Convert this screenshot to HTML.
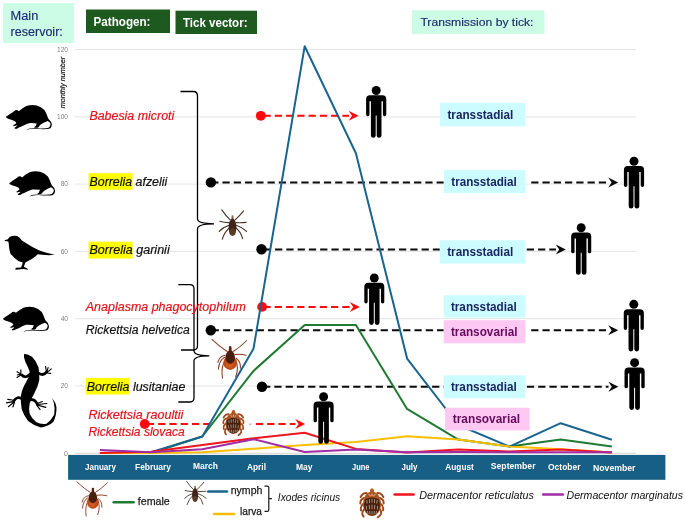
<!DOCTYPE html>
<html lang="en"><head><meta charset="utf-8"><title>Tick-borne pathogens: seasonal activity and transmission</title>
<style>
html,body{margin:0;padding:0;background:#fff;}
body{width:685px;height:524px;overflow:hidden;font-family:"Liberation Sans",sans-serif;}
svg{display:block;}
text{font-family:"Liberation Sans",sans-serif;}
</style></head>
<body>
<svg width="685" height="524" viewBox="0 0 685 524">
<rect width="685" height="524" fill="#ffffff"/>
<line x1="75" y1="453.3" x2="636" y2="453.3" stroke="#d9d4d0" stroke-width="1.0"/>
<text x="67.8" y="455.8" font-size="6.9" fill="#7f7f7f" text-anchor="end" >0</text>
<line x1="75" y1="386.0" x2="636" y2="386.0" stroke="#e4e4e4" stroke-width="1.0"/>
<text x="68" y="388.3" font-size="6.6" fill="#7f7f7f" text-anchor="end" >20</text>
<line x1="75" y1="318.7" x2="636" y2="318.7" stroke="#e4e4e4" stroke-width="1.0"/>
<text x="68" y="321.0" font-size="6.6" fill="#7f7f7f" text-anchor="end" >40</text>
<line x1="75" y1="251.4" x2="636" y2="251.4" stroke="#e4e4e4" stroke-width="1.0"/>
<text x="68" y="253.7" font-size="6.6" fill="#7f7f7f" text-anchor="end" >60</text>
<line x1="75" y1="184.1" x2="636" y2="184.1" stroke="#e4e4e4" stroke-width="1.0"/>
<text x="68" y="186.4" font-size="6.6" fill="#7f7f7f" text-anchor="end" >80</text>
<line x1="75" y1="116.9" x2="636" y2="116.9" stroke="#e4e4e4" stroke-width="1.0"/>
<text x="68" y="119.2" font-size="6.6" fill="#7f7f7f" text-anchor="end" >100</text>
<line x1="75" y1="49.6" x2="636" y2="49.6" stroke="#e4e4e4" stroke-width="1.0"/>
<text x="68" y="51.9" font-size="6.6" fill="#7f7f7f" text-anchor="end" >120</text>
<text transform="translate(65.2,108.3) rotate(-90)" font-size="7.6" font-style="italic" fill="#1a1a1a" stroke="#1a1a1a" stroke-width="0.2" textLength="51.5" lengthAdjust="spacingAndGlyphs">monthly number</text>
<rect x="3" y="3" width="71" height="40" fill="#ccfbe6"/>
<text x="10.6" y="19.8" font-size="12.3" fill="#1d2c72" textLength="27.7" lengthAdjust="spacingAndGlyphs" stroke="#1d2c72" stroke-width="0.15">Main</text>
<text x="10.6" y="35.6" font-size="12.3" fill="#1d2c72" textLength="52.2" lengthAdjust="spacingAndGlyphs" stroke="#1d2c72" stroke-width="0.15">reservoir:</text>
<rect x="86" y="9.5" width="84" height="23.5" fill="#1e5a20"/>
<text x="93.5" y="26" font-size="13.4" fill="#fff" textLength="57" lengthAdjust="spacingAndGlyphs" font-weight="bold" >Pathogen:</text>
<rect x="175.5" y="10.7" width="81.5" height="23.3" fill="#1e5a20"/>
<text x="183" y="26.8" font-size="13.4" fill="#fff" textLength="64.5" lengthAdjust="spacingAndGlyphs" font-weight="bold" >Tick vector:</text>
<rect x="412" y="10.4" width="132.5" height="23.6" fill="#ccfbe6"/>
<text x="420.4" y="26.4" font-size="11.7" fill="#1d2c68" textLength="113.1" lengthAdjust="spacingAndGlyphs" stroke="#1d2c68" stroke-width="0.15">Transmission by tick:</text>
<rect x="68.1" y="454.9" width="597.3" height="24.9" fill="#175f85"/>
<text x="85" y="470" font-size="8.7" fill="#fff" textLength="31" lengthAdjust="spacingAndGlyphs" font-weight="bold" >January</text>
<text x="135" y="470" font-size="8.7" fill="#fff" textLength="36" lengthAdjust="spacingAndGlyphs" font-weight="bold" >February</text>
<text x="193" y="468.8" font-size="8.7" fill="#fff" textLength="25" lengthAdjust="spacingAndGlyphs" font-weight="bold" >March</text>
<text x="247" y="470.4" font-size="8.7" fill="#fff" textLength="19" lengthAdjust="spacingAndGlyphs" font-weight="bold" >April</text>
<text x="296" y="470.4" font-size="8.7" fill="#fff" textLength="16.5" lengthAdjust="spacingAndGlyphs" font-weight="bold" >May</text>
<text x="352" y="470" font-size="8.7" fill="#fff" textLength="17.5" lengthAdjust="spacingAndGlyphs" font-weight="bold" >June</text>
<text x="401.5" y="470" font-size="8.7" fill="#fff" textLength="16.0" lengthAdjust="spacingAndGlyphs" font-weight="bold" >July</text>
<text x="445.3" y="470" font-size="8.7" fill="#fff" textLength="28.5" lengthAdjust="spacingAndGlyphs" font-weight="bold" >August</text>
<text x="490.8" y="469" font-size="8.7" fill="#fff" textLength="44.69999999999999" lengthAdjust="spacingAndGlyphs" font-weight="bold" >September</text>
<text x="548" y="470" font-size="8.7" fill="#fff" textLength="32.5" lengthAdjust="spacingAndGlyphs" font-weight="bold" >October</text>
<text x="593" y="470.6" font-size="8.7" fill="#fff" textLength="42.5" lengthAdjust="spacingAndGlyphs" font-weight="bold" >November</text>
<path d="M180.5,91.5 H193.5 Q197.5,91.5 197.5,96 V218.8 Q197.5,223.8 214,223.8 Q197.5,223.8 197.5,228.8 V345.5 Q197.5,350 193.5,350 H181" fill="none" stroke="#000" stroke-width="1.3"/>
<path d="M178.3,284.6 H190 Q194,284.6 194,289 V350.8 Q194,355.8 209.3,355.8 Q194,355.8 194,360.8 V397.5 Q194,402 190,402 H178.3" fill="none" stroke="#000" stroke-width="1.3"/>
<text x="89.4" y="119.8" font-size="12.3" fill="#e0161e" textLength="84.9" lengthAdjust="spacingAndGlyphs" font-style="italic" stroke="#e0161e" stroke-width="0.2">Babesia microti</text>
<rect x="88.6" y="173.2" width="43.9" height="16.6" fill="#ffff00"/>
<text x="89.5" y="186" font-size="12.3" fill="#111" textLength="77.7" lengthAdjust="spacingAndGlyphs" font-style="italic" stroke="#111" stroke-width="0.2">Borrelia afzelii</text>
<rect x="88.6" y="241.7" width="43.9" height="16.8" fill="#ffff00"/>
<text x="89.5" y="254.3" font-size="12.3" fill="#111" textLength="80.2" lengthAdjust="spacingAndGlyphs" font-style="italic" stroke="#111" stroke-width="0.2">Borrelia garinii</text>
<text x="85.8" y="310.5" font-size="12.3" fill="#e0161e" textLength="160.2" lengthAdjust="spacingAndGlyphs" font-style="italic" stroke="#e0161e" stroke-width="0.2">Anaplasma phagocytophilum</text>
<text x="85.8" y="334.1" font-size="12.3" fill="#111" textLength="104.0" lengthAdjust="spacingAndGlyphs" font-style="italic" stroke="#111" stroke-width="0.2">Rickettsia helvetica</text>
<rect x="85.8" y="377.9" width="43.6" height="16.6" fill="#ffff00"/>
<text x="86.7" y="390.7" font-size="12.3" fill="#111" textLength="98.7" lengthAdjust="spacingAndGlyphs" font-style="italic" stroke="#111" stroke-width="0.2">Borrelia lusitaniae</text>
<text x="88.4" y="419" font-size="12.3" fill="#e0161e" textLength="94.9" lengthAdjust="spacingAndGlyphs" font-style="italic" stroke="#e0161e" stroke-width="0.2">Rickettsia raoultii</text>
<text x="88.4" y="435.7" font-size="12.3" fill="#e0161e" textLength="96.3" lengthAdjust="spacingAndGlyphs" font-style="italic" stroke="#e0161e" stroke-width="0.2">Rickettsia slovaca</text>
<line x1="263.5" y1="115.7" x2="349" y2="115.7" stroke="#ff0a0a" stroke-width="2.0" stroke-dasharray="7.25 4.02"/>
<path d="M358.6,115.7 l-10,-4.95 l3.4,4.95 l-3.4,4.95 z" fill="#ff0a0a"/>
<circle cx="260.8" cy="115.8" r="4.9" fill="#ff0a0a"/>
<line x1="211.2" y1="182.5" x2="443.8" y2="182.5" stroke="#0a0a0a" stroke-width="2.0" stroke-dasharray="7.25 4.02"/>
<line x1="531.2" y1="182.5" x2="608.5" y2="182.5" stroke="#0a0a0a" stroke-width="2.0" stroke-dasharray="7.25 4.02"/>
<path d="M618.2,182.5 l-10,-4.95 l3.4,4.95 l-3.4,4.95 z" fill="#0a0a0a"/>
<circle cx="210.9" cy="182.4" r="5.2" fill="#000"/>
<line x1="263.8" y1="249.45" x2="440" y2="249.45" stroke="#0a0a0a" stroke-width="2.0" stroke-dasharray="7.25 4.02"/>
<line x1="515.5" y1="249.45" x2="556" y2="249.45" stroke="#0a0a0a" stroke-width="2.0" stroke-dasharray="7.25 4.02"/>
<path d="M565.8,249.45 l-10,-4.95 l3.4,4.95 l-3.4,4.95 z" fill="#0a0a0a"/>
<circle cx="261.5" cy="249.3" r="5.2" fill="#000"/>
<line x1="263.4" y1="307.0" x2="350" y2="307.0" stroke="#ff0a0a" stroke-width="2.0" stroke-dasharray="7.25 4.02"/>
<path d="M359.8,307.0 l-10,-4.95 l3.4,4.95 l-3.4,4.95 z" fill="#ff0a0a"/>
<circle cx="262.1" cy="306.9" r="4.9" fill="#ff0a0a"/>
<line x1="211.6" y1="330.3" x2="443.8" y2="330.3" stroke="#0a0a0a" stroke-width="2.0" stroke-dasharray="7.25 4.02"/>
<line x1="531.2" y1="330.3" x2="608.5" y2="330.3" stroke="#0a0a0a" stroke-width="2.0" stroke-dasharray="7.25 4.02"/>
<path d="M618.2,330.3 l-10,-4.95 l3.4,4.95 l-3.4,4.95 z" fill="#0a0a0a"/>
<circle cx="210.8" cy="330.3" r="5.2" fill="#000"/>
<line x1="263.05" y1="386.7" x2="443.8" y2="386.7" stroke="#0a0a0a" stroke-width="2.0" stroke-dasharray="7.25 4.02"/>
<line x1="526.9" y1="386.7" x2="608.5" y2="386.7" stroke="#0a0a0a" stroke-width="2.0" stroke-dasharray="7.25 4.02"/>
<path d="M618.4,386.7 l-10,-4.95 l3.4,4.95 l-3.4,4.95 z" fill="#0a0a0a"/>
<circle cx="262.0" cy="386.8" r="5.2" fill="#000"/>
<line x1="146.85" y1="424.0" x2="209" y2="424.0" stroke="#ff0a0a" stroke-width="2.0" stroke-dasharray="7.25 4.02"/>
<line x1="255.9" y1="424.0" x2="295.5" y2="424.0" stroke="#ff0a0a" stroke-width="2.0" stroke-dasharray="7.25 4.02"/>
<path d="M305.2,424.0 l-10,-4.95 l3.4,4.95 l-3.4,4.95 z" fill="#ff0a0a"/>
<circle cx="144.7" cy="424.0" r="4.9" fill="#ff0a0a"/>
<rect x="209" y="410" width="45.5" height="27" fill="#fff"/>
<circle cx="250.1" cy="424.1" r="0.7" fill="#ff0a0a"/>
<g transform="translate(232.5,226.3) scale(1.04)"><path d="M-2.2,-6.2 Q-6,-9.6 -10.3,-15.8 M2.6,-6.2 Q6.4,-9.6 10.7,-14.8 M-3.2,-3.5 Q-8,-3.4 -12.2,-4.8 M3.5,-3.5 Q8.5,-3.2 13.1,-3.8 M-3.2,-1 Q-9.3,1 -12.7,4.8 M3.5,-1 Q9.7,1 13.6,4.8 M-2.7,1.4 Q-7.6,5 -9.8,12.4 M3.1,1.4 Q7.9,5 9.7,11.9" stroke="#4e3428" stroke-width="1.1" fill="none" stroke-linecap="round"/><path d="M-1.1,-6.5 L-0.9,-10.3 Q0,-10.9 0.9,-10.3 L1.1,-6.5 Z" fill="#8c6a50"/>
<ellipse cx="0" cy="0.8" rx="3.7" ry="8.3" fill="#3f2218"/>
<ellipse cx="0" cy="5.5" rx="3" ry="3.4" fill="#5c3a28"/></g>
<g transform="translate(230.2,360.4) scale(1.0)"><path d="M-2.9,-8.9 Q-9,-12.5 -18.2,-21 M2.8,-8.9 Q9,-12.5 16.5,-19.9 M-5,-5.2 Q-10.8,-4.4 -12.4,2.1 M4.9,-5.8 Q10,-6.6 15.9,-5.2 M-5.6,-3.1 Q-11,0 -11.9,8.9 M6,-2.1 Q10.6,1 10.2,7.9 M-5,0 Q-9.4,6 -7.7,17.8 M5.5,0 Q9,7 5.5,16.3" stroke="#8a3c22" stroke-width="1.05" fill="none" stroke-linecap="round"/><path d="M-1.5,-9 L-1.2,-14 Q0,-14.8 1.2,-14 L1.5,-9 Z" fill="#5a1c14"/>
<ellipse cx="0" cy="2.3" rx="6.7" ry="7.3" fill="#bf4a17"/>
<ellipse cx="-0.5" cy="4" rx="3.6" ry="3.6" fill="#cf5a22"/>
<path d="M0,-10 C3.6,-9.6 5.2,-5 4.6,-1.4 C4,1.6 2,3.2 0,3.4 C-2,3.2 -4,1.6 -4.6,-1.4 C-5.2,-5 -3.6,-9.6 0,-10 Z" fill="#46200f"/></g>
<g transform="translate(233.4,423.6) scale(1.0)"><path d="M-4.7,-9.5 Q-8.2,-9.6 -9.9,-6 M-6.9,-5.2 Q-10.4,-4 -10.1,-0.4 M-7.3,-0.4 Q-10.6,2 -9.5,5.6 M-6.9,4.7 Q-9.8,8.2 -7.3,10.9 M4.7,-9.5 Q8.2,-9.6 9.9,-6 M6.9,-5.2 Q10.4,-4 10.1,-0.4 M7.3,-0.4 Q10.6,2 9.5,5.6 M6.9,4.7 Q9.8,8.8 5,11.6" stroke="#9c4a1e" stroke-width="1.7" fill="none" stroke-linecap="round"/><ellipse cx="0" cy="-11.4" rx="1.8" ry="2.3" fill="#b25a22"/>
<ellipse cx="0" cy="-0.2" rx="7.9" ry="10.6" fill="#b4531c"/>
<ellipse cx="0" cy="0.6" rx="6.9" ry="9.4" fill="#45200f"/>
<path d="M0,-10 C4,-9.8 6.4,-7 6.6,-3.4 C4,-5 2,-5.6 0,-5.6 C-2,-5.6 -4,-5 -6.6,-3.4 C-6.4,-7 -4,-9.8 0,-10 Z" fill="#a8521f"/>
<path d="M-4.6,-3.5 l0.5,3 M-5,1.5 l0.4,3.4 M-4,6 l0.6,2.4 M-2.3,-4.4 l0.2,3.6 M-2.4,0.8 l0.2,3.8 M-2,6 l0.3,3 M0,-4.6 v3.4 M0,0.6 v4 M0,6.2 v3.2 M2.3,-4.4 l-0.2,3.6 M2.4,0.8 l-0.2,3.8 M2,6 l-0.3,3 M4.6,-3.5 l-0.5,3 M5,1.5 l-0.4,3.4 M4,6 l-0.6,2.4" stroke="#cdb9a6" stroke-width="0.7" fill="none" opacity="0.9"/>
<path d="M-3,-8.4 L-1,-6.8 M3,-8.4 L1,-6.8 M0,-9 v2" stroke="#e6cfae" stroke-width="0.8" fill="none"/></g>
<polyline points="99.9,453.0 151.1,453.0 202.3,436.5 253.5,370.9 304.7,324.9 355.9,324.9 407.1,408.9 458.3,439.6 509.5,446.6 560.7,439.6 611.9,446.4" fill="none" stroke="#1f7a32" stroke-width="2.0" stroke-linejoin="round" stroke-linecap="butt"/>
<polyline points="99.9,453.0 151.1,452.3 202.3,436.5 253.5,348.7 304.7,46.2 355.9,153.2 407.1,358.6 458.3,425.0 509.5,446.6 560.7,423.2 611.9,439.7" fill="none" stroke="#1a6490" stroke-width="2.0" stroke-linejoin="round" stroke-linecap="butt"/>
<polyline points="99.9,453.0 151.1,453.0 202.3,452.3 253.5,448.8 304.7,445.0 355.9,442.0 407.1,436.3 458.3,439.6 509.5,446.6 560.7,449.3 611.9,452.6" fill="none" stroke="#fbbe00" stroke-width="2.0" stroke-linejoin="round" stroke-linecap="butt"/>
<polyline points="99.9,453.0 151.1,451.8 202.3,444.9 253.5,438.2 304.7,432.8 355.9,448.9 407.1,452.6 458.3,449.4 509.5,451.6 560.7,449.6 611.9,452.6" fill="none" stroke="#f0141e" stroke-width="2.0" stroke-linejoin="round" stroke-linecap="butt"/>
<polyline points="99.9,449.9 151.1,452.3 202.3,449.3 253.5,439.2 304.7,452.0 355.9,449.4 407.1,452.3 458.3,452.1 509.5,452.3 560.7,452.3 611.9,452.3" fill="none" stroke="#a02ca6" stroke-width="2.0" stroke-linejoin="round" stroke-linecap="butt"/>
<g transform="translate(376.2,86.0) scale(1.0000)" fill="#000">
<circle cx="0" cy="4.45" r="4.5"/>
<path d="M-6.1,9.3 h12.2 a4,4 0 0 1 4,4 v15.2 a1.7,1.7 0 0 1 -3.4,0 v-13.2 h-1.4 v34.1 a2.4,2.4 0 0 1 -4.8,0 v-19.9 h-1 v19.9 a2.4,2.4 0 0 1 -4.8,0 v-34.1 h-1.4 v13.2 a1.7,1.7 0 0 1 -3.4,0 v-15.2 a4,4 0 0 1 4,-4 z"/>
</g>
<g transform="translate(634.0,156.8) scale(1.0000)" fill="#000">
<circle cx="0" cy="4.45" r="4.5"/>
<path d="M-6.1,9.3 h12.2 a4,4 0 0 1 4,4 v15.2 a1.7,1.7 0 0 1 -3.4,0 v-13.2 h-1.4 v34.1 a2.4,2.4 0 0 1 -4.8,0 v-19.9 h-1 v19.9 a2.4,2.4 0 0 1 -4.8,0 v-34.1 h-1.4 v13.2 a1.7,1.7 0 0 1 -3.4,0 v-15.2 a4,4 0 0 1 4,-4 z"/>
</g>
<g transform="translate(581.2,223.3) scale(0.9942)" fill="#000">
<circle cx="0" cy="4.45" r="4.5"/>
<path d="M-6.1,9.3 h12.2 a4,4 0 0 1 4,4 v15.2 a1.7,1.7 0 0 1 -3.4,0 v-13.2 h-1.4 v34.1 a2.4,2.4 0 0 1 -4.8,0 v-19.9 h-1 v19.9 a2.4,2.4 0 0 1 -4.8,0 v-34.1 h-1.4 v13.2 a1.7,1.7 0 0 1 -3.4,0 v-15.2 a4,4 0 0 1 4,-4 z"/>
</g>
<g transform="translate(374.3,273.6) scale(0.9903)" fill="#000">
<circle cx="0" cy="4.45" r="4.5"/>
<path d="M-6.1,9.3 h12.2 a4,4 0 0 1 4,4 v15.2 a1.7,1.7 0 0 1 -3.4,0 v-13.2 h-1.4 v34.1 a2.4,2.4 0 0 1 -4.8,0 v-19.9 h-1 v19.9 a2.4,2.4 0 0 1 -4.8,0 v-34.1 h-1.4 v13.2 a1.7,1.7 0 0 1 -3.4,0 v-15.2 a4,4 0 0 1 4,-4 z"/>
</g>
<g transform="translate(633.8,299.9) scale(0.9961)" fill="#000">
<circle cx="0" cy="4.45" r="4.5"/>
<path d="M-6.1,9.3 h12.2 a4,4 0 0 1 4,4 v15.2 a1.7,1.7 0 0 1 -3.4,0 v-13.2 h-1.4 v34.1 a2.4,2.4 0 0 1 -4.8,0 v-19.9 h-1 v19.9 a2.4,2.4 0 0 1 -4.8,0 v-34.1 h-1.4 v13.2 a1.7,1.7 0 0 1 -3.4,0 v-15.2 a4,4 0 0 1 4,-4 z"/>
</g>
<g transform="translate(634.6,358.2) scale(0.9981)" fill="#000">
<circle cx="0" cy="4.45" r="4.5"/>
<path d="M-6.1,9.3 h12.2 a4,4 0 0 1 4,4 v15.2 a1.7,1.7 0 0 1 -3.4,0 v-13.2 h-1.4 v34.1 a2.4,2.4 0 0 1 -4.8,0 v-19.9 h-1 v19.9 a2.4,2.4 0 0 1 -4.8,0 v-34.1 h-1.4 v13.2 a1.7,1.7 0 0 1 -3.4,0 v-15.2 a4,4 0 0 1 4,-4 z"/>
</g>
<g transform="translate(323.6,392.3) scale(0.9942)" fill="#000">
<circle cx="0" cy="4.45" r="4.5"/>
<path d="M-6.1,9.3 h12.2 a4,4 0 0 1 4,4 v15.2 a1.7,1.7 0 0 1 -3.4,0 v-13.2 h-1.4 v34.1 a2.4,2.4 0 0 1 -4.8,0 v-19.9 h-1 v19.9 a2.4,2.4 0 0 1 -4.8,0 v-34.1 h-1.4 v13.2 a1.7,1.7 0 0 1 -3.4,0 v-15.2 a4,4 0 0 1 4,-4 z"/>
</g>
<rect x="440.1" y="102.9" width="85.3" height="23.5" fill="#ccfcff"/>
<text x="447.4" y="119.1" font-size="12.7" fill="#1a2663" textLength="66.0" lengthAdjust="spacingAndGlyphs" font-weight="bold" >transstadial</text>
<rect x="443.8" y="170.1" width="81.6" height="23.1" fill="#ccfcff"/>
<text x="451.3" y="186.2" font-size="12.7" fill="#1a2663" textLength="65.5" lengthAdjust="spacingAndGlyphs" font-weight="bold" >transstadial</text>
<rect x="439.7" y="240.3" width="85.7" height="23.3" fill="#ccfcff"/>
<text x="447.2" y="256.0" font-size="12.7" fill="#1a2663" textLength="66.0" lengthAdjust="spacingAndGlyphs" font-weight="bold" >transstadial</text>
<rect x="443.7" y="295.2" width="81.8" height="22.4" fill="#ccfcff"/>
<text x="450.9" y="310.9" font-size="12.7" fill="#1a2663" textLength="65.9" lengthAdjust="spacingAndGlyphs" font-weight="bold" >transstadial</text>
<rect x="443.7" y="320.2" width="81.8" height="23.1" fill="#fdc8f1"/>
<text x="450.9" y="336.1" font-size="12.7" fill="#660a5c" textLength="66.7" lengthAdjust="spacingAndGlyphs" font-weight="bold" >transovarial</text>
<rect x="443.7" y="375.3" width="81.8" height="23.0" fill="#ccfcff"/>
<text x="450.9" y="391.2" font-size="12.7" fill="#1a2663" textLength="65.9" lengthAdjust="spacingAndGlyphs" font-weight="bold" >transstadial</text>
<rect x="445.1" y="407.8" width="84.4" height="22.6" fill="#fdc8f1"/>
<text x="452.8" y="423.2" font-size="12.7" fill="#660a5c" textLength="67.3" lengthAdjust="spacingAndGlyphs" font-weight="bold" >transovarial</text>
<g transform="translate(0,98) scale(0.08759)" fill="#000"><path d="M68,215 L110,185 L150,160 L175,140 Q195,130 215,150 Q250,120 300,92 Q360,72 420,85 Q470,100 510,140 Q532,180 545,220 Q552,238 562,247 Q588,268 592,300 Q592,340 560,352 Q520,360 460,355 Q400,348 340,355 L300,368 Q320,352 340,348 Q400,340 460,347 Q520,350 555,340 Q578,322 578,295 Q572,272 545,262 Q510,275 482,292 Q460,305 450,318 L446,328 L430,339 L390,341 Q392,328 408,321 Q412,304 420,291 Q380,285 330,287 Q290,300 262,316 Q240,330 215,336 L195,350 L170,350 L165,340 L185,328 L197,312 L175,316 L155,322 L150,312 L170,300 L187,285 Q180,272 170,265 Q140,250 100,240 L75,228 Z"/></g>
<g transform="translate(3.25,164.3) scale(0.08759)" fill="#000"><path d="M68,215 L110,185 L150,160 L175,140 Q195,130 215,150 Q250,120 300,92 Q360,72 420,85 Q470,100 510,140 Q532,180 545,220 Q552,238 562,247 Q588,268 592,300 Q592,340 560,352 Q520,360 460,355 Q400,348 340,355 L300,368 Q320,352 340,348 Q400,340 460,347 Q520,350 555,340 Q578,322 578,295 Q572,272 545,262 Q510,275 482,292 Q460,305 450,318 L446,328 L430,339 L390,341 Q392,328 408,321 Q412,304 420,291 Q380,285 330,287 Q290,300 262,316 Q240,330 215,336 L195,350 L170,350 L165,340 L185,328 L197,312 L175,316 L155,322 L150,312 L170,300 L187,285 Q180,272 170,265 Q140,250 100,240 L75,228 Z"/></g>
<g transform="translate(0,230) scale(0.08759)" fill="#000">
<path d="M50,118 L90,105 Q100,85 120,75 Q150,62 195,68 Q228,82 250,120 L300,150 L370,195 L450,235 L520,258 L625,282 L560,288 L480,282 L430,278 Q415,295 400,305 Q360,338 310,360 L290,370 L272,420 L300,435 L318,445 L318,455 L270,445 L235,448 L180,455 L172,445 L185,432 L240,428 L255,390 L258,368 Q230,365 210,355 Q160,322 120,270 Q102,220 100,160 L95,130 L60,125 Z"/></g>
<g transform="translate(-2.9,299.7) scale(0.08759)" fill="#000"><path d="M68,215 L110,185 L150,160 L175,140 Q195,130 215,150 Q250,120 300,92 Q360,72 420,85 Q470,100 510,140 Q532,180 545,220 Q552,238 562,247 Q588,268 592,300 Q592,340 560,352 Q520,360 460,355 Q400,348 340,355 L300,368 Q320,352 340,348 Q400,340 460,347 Q520,350 555,340 Q578,322 578,295 Q572,272 545,262 Q510,275 482,292 Q460,305 450,318 L446,328 L430,339 L390,341 Q392,328 408,321 Q412,304 420,291 Q380,285 330,287 Q290,300 262,316 Q240,330 215,336 L195,350 L170,350 L165,340 L185,328 L197,312 L175,316 L155,322 L150,312 L170,300 L187,285 Q180,272 170,265 Q140,250 100,240 L75,228 Z"/></g>
<g transform="translate(0,348) scale(0.16041)">
<path d="M152,36 Q175,38 200,55 Q225,80 240,120 Q247,160 245,200 Q238,240 215,280 Q195,315 185,345 Q178,380 185,410 Q198,440 225,462 Q255,478 290,472 Q320,452 338,415 Q345,375 335,340 L325,312 Q348,340 352,370 Q354,420 332,462 Q302,490 255,495 Q210,484 175,455 Q148,420 135,380 Q128,340 130,300 Q134,268 150,235 Q170,200 185,170 Q188,140 170,110 Q155,85 150,60 Q148,45 152,36 Z" fill="#000"/>
<path d="M185,165 Q160,192 136,168 M243,158 Q272,176 290,150 M138,318 Q108,296 86,330 M188,324 Q216,316 232,350" fill="none" stroke="#000" stroke-width="17" stroke-linecap="round"/>
<path d="M128,160 L106,148 M126,164 L108,168 M130,168 L106,184 M130,156 L130,136 M290,150 L284,114 M292,150 L300,122 M294,152 L320,130 M292,156 L316,158 M86,326 L48,320 M84,334 L40,342 M86,338 L52,366 M90,340 L80,368 M232,346 L264,334 M234,352 L292,346 M234,356 L286,370 M230,358 L250,384" fill="none" stroke="#000" stroke-width="7" stroke-linecap="round"/>
</g>
<g transform="translate(92.9,500.3) scale(0.88)"><path d="M-2.9,-8.9 Q-9,-12.5 -18.2,-21 M2.8,-8.9 Q9,-12.5 16.5,-19.9 M-5,-5.2 Q-10.8,-4.4 -12.4,2.1 M4.9,-5.8 Q10,-6.6 15.9,-5.2 M-5.6,-3.1 Q-11,0 -11.9,8.9 M6,-2.1 Q10.6,1 10.2,7.9 M-5,0 Q-9.4,6 -7.7,17.8 M5.5,0 Q9,7 5.5,16.3" stroke="#8a3c22" stroke-width="1.05" fill="none" stroke-linecap="round"/><path d="M-1.5,-9 L-1.2,-14 Q0,-14.8 1.2,-14 L1.5,-9 Z" fill="#5a1c14"/>
<ellipse cx="0" cy="2.3" rx="6.7" ry="7.3" fill="#bf4a17"/>
<ellipse cx="-0.5" cy="4" rx="3.6" ry="3.6" fill="#cf5a22"/>
<path d="M0,-10 C3.6,-9.6 5.2,-5 4.6,-1.4 C4,1.6 2,3.2 0,3.4 C-2,3.2 -4,1.6 -4.6,-1.4 C-5.2,-5 -3.6,-9.6 0,-10 Z" fill="#46200f"/></g>
<line x1="113.7" y1="502.3" x2="133.6" y2="502.3" stroke="#1f7a32" stroke-width="2.6" stroke-linecap="round"/>
<text x="137.8" y="505.4" font-size="11.1" fill="#1a1a1a" textLength="32" lengthAdjust="spacingAndGlyphs" stroke="#1a1a1a" stroke-width="0.25">female</text>
<g transform="translate(195.1,494.4) scale(0.82)"><path d="M-2.2,-6.2 Q-6,-9.6 -10.3,-15.8 M2.6,-6.2 Q6.4,-9.6 10.7,-14.8 M-3.2,-3.5 Q-8,-3.4 -12.2,-4.8 M3.5,-3.5 Q8.5,-3.2 13.1,-3.8 M-3.2,-1 Q-9.3,1 -12.7,4.8 M3.5,-1 Q9.7,1 13.6,4.8 M-2.7,1.4 Q-7.6,5 -9.8,12.4 M3.1,1.4 Q7.9,5 9.7,11.9" stroke="#4e3428" stroke-width="1.1" fill="none" stroke-linecap="round"/><path d="M-1.1,-6.5 L-0.9,-10.3 Q0,-10.9 0.9,-10.3 L1.1,-6.5 Z" fill="#8c6a50"/>
<ellipse cx="0" cy="0.8" rx="3.7" ry="8.3" fill="#3f2218"/>
<ellipse cx="0" cy="5.5" rx="3" ry="3.4" fill="#5c3a28"/></g>
<line x1="208.2" y1="491.5" x2="227" y2="491.5" stroke="#1a6490" stroke-width="2.5" stroke-linecap="round"/>
<text x="230.7" y="493.8" font-size="11.1" fill="#1a1a1a" textLength="31.7" lengthAdjust="spacingAndGlyphs" stroke="#1a1a1a" stroke-width="0.25">nymph</text>
<line x1="214.1" y1="514" x2="234.1" y2="514" stroke="#fabd00" stroke-width="2.5" stroke-linecap="round"/>
<text x="240" y="515.4" font-size="11.1" fill="#1a1a1a" textLength="22" lengthAdjust="spacingAndGlyphs" stroke="#1a1a1a" stroke-width="0.25">larva</text>
<path d="M264.5,486.1 H267.3 Q268.8,486.1 268.8,487.6 V509.9 Q268.8,511.4 267.3,511.4 H264.5 M268.8,498.7 H271.9" fill="none" stroke="#1a1a1a" stroke-width="1.2"/>
<text x="277.8" y="500.5" font-size="10.6" fill="#111" textLength="62.4" lengthAdjust="spacingAndGlyphs" font-style="italic" >Ixodes ricinus</text>
<g transform="translate(372,504) scale(1.15)"><path d="M-4.7,-9.5 Q-8.2,-9.6 -9.9,-6 M-6.9,-5.2 Q-10.4,-4 -10.1,-0.4 M-7.3,-0.4 Q-10.6,2 -9.5,5.6 M-6.9,4.7 Q-9.8,8.2 -7.3,10.9 M4.7,-9.5 Q8.2,-9.6 9.9,-6 M6.9,-5.2 Q10.4,-4 10.1,-0.4 M7.3,-0.4 Q10.6,2 9.5,5.6 M6.9,4.7 Q9.8,8.8 5,11.6" stroke="#9c4a1e" stroke-width="1.7" fill="none" stroke-linecap="round"/><ellipse cx="0" cy="-11.4" rx="1.8" ry="2.3" fill="#b25a22"/>
<ellipse cx="0" cy="-0.2" rx="7.9" ry="10.6" fill="#b4531c"/>
<ellipse cx="0" cy="0.6" rx="6.9" ry="9.4" fill="#45200f"/>
<path d="M0,-10 C4,-9.8 6.4,-7 6.6,-3.4 C4,-5 2,-5.6 0,-5.6 C-2,-5.6 -4,-5 -6.6,-3.4 C-6.4,-7 -4,-9.8 0,-10 Z" fill="#a8521f"/>
<path d="M-4.6,-3.5 l0.5,3 M-5,1.5 l0.4,3.4 M-4,6 l0.6,2.4 M-2.3,-4.4 l0.2,3.6 M-2.4,0.8 l0.2,3.8 M-2,6 l0.3,3 M0,-4.6 v3.4 M0,0.6 v4 M0,6.2 v3.2 M2.3,-4.4 l-0.2,3.6 M2.4,0.8 l-0.2,3.8 M2,6 l-0.3,3 M4.6,-3.5 l-0.5,3 M5,1.5 l-0.4,3.4 M4,6 l-0.6,2.4" stroke="#cdb9a6" stroke-width="0.7" fill="none" opacity="0.9"/>
<path d="M-3,-8.4 L-1,-6.8 M3,-8.4 L1,-6.8 M0,-9 v2" stroke="#e6cfae" stroke-width="0.8" fill="none"/></g>
<line x1="394.6" y1="494.5" x2="413.6" y2="494.5" stroke="#f0141e" stroke-width="2.5" stroke-linecap="round"/>
<text x="419.3" y="498.8" font-size="10.6" fill="#111" textLength="114.7" lengthAdjust="spacingAndGlyphs" font-style="italic" >Dermacentor reticulatus</text>
<line x1="543.1" y1="494.5" x2="562.9" y2="494.5" stroke="#a02ca6" stroke-width="2.5" stroke-linecap="round"/>
<text x="566.5" y="498.8" font-size="10.6" fill="#111" textLength="116.5" lengthAdjust="spacingAndGlyphs" font-style="italic" >Dermacentor marginatus</text>
</svg>
</body></html>
